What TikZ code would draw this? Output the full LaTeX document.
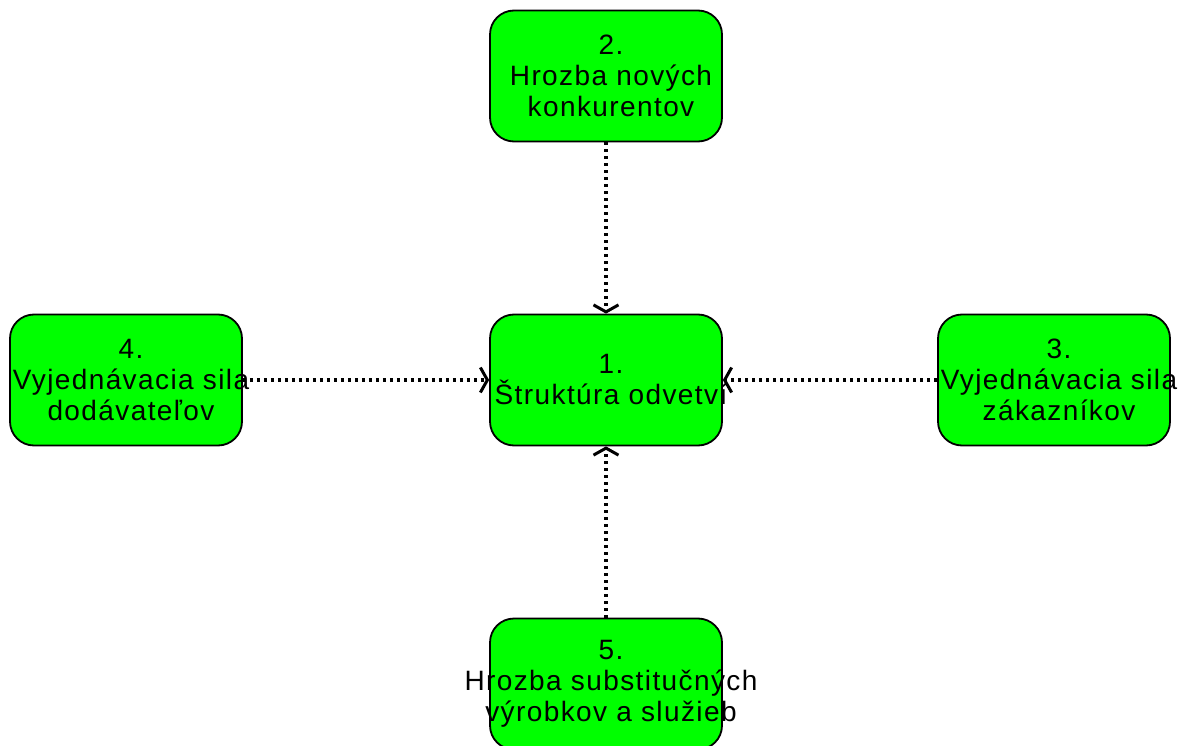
\documentclass[tikz,border=0pt]{standalone}
\usepackage{fontspec}
\setmainfont{Liberation Sans}[LetterSpace=5]
\usetikzlibrary{arrows.meta}

\begin{document}
\begin{tikzpicture}[x=1pt,y=-1pt,
    force/.style={draw=black, line width=1.8pt, fill=green, rounded corners=24pt,
        minimum width=232pt, minimum height=131pt, inner sep=0pt},
    caption/.style={align=center, inner sep=0pt, xshift=5pt, font=\fontsize{28}{31}\selectfont},
    pull/.style={line width=3.5pt, dash pattern=on 3pt off 4pt,
        -{Straight Barb[length=7pt,width=25pt,line width=3pt]}}]
    \useasboundingbox (0,0) rectangle (1181,746);

    % Draw boxes
    \node[force] (core) at (606,380) {};
    \node[force] (entrants) at (606,76) {};
    \node[force] (buyers) at (1054,380) {};
    \node[force] (suppliers) at (126,380) {};
    \node[force] (substitutes) at (606,684) {};

    % Draw dotted arrows towards the centre
    \draw[pull] (entrants) -- (core);
    \draw[pull] (buyers) -- (core);
    \draw[pull] (suppliers) -- (core);
    \draw[pull] (substitutes) -- (core);

    % Add labels
    \node[caption] (coretext) at (core) {1.\\Štruktúra odvetví};
    \node[caption] (entrantstext) at (entrants) {2.\\Hrozba nových\\konkurentov};
    \node[caption] (buyerstext) at (buyers) {3.\\Vyjednávacia sila\\zákazníkov};
    \node[caption] (supplierstext) at (suppliers) {4.\\Vyjednávacia sila\\dodávateľov};
    \node[caption] (substitutestext) at (substitutes) {5.\\Hrozba substitučných\\výrobkov a služieb};
\end{tikzpicture}
\end{document}
